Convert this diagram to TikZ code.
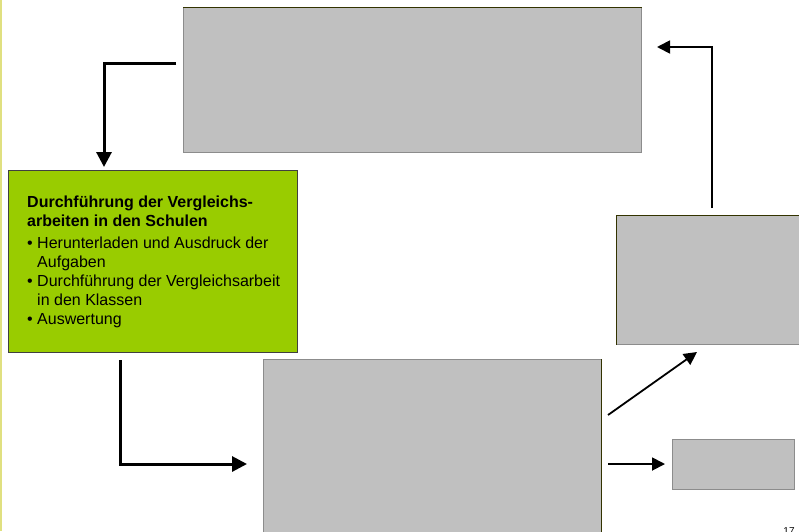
\documentclass[tikz,border=0pt]{standalone}
\usepackage{fontspec}
\setmainfont{Liberation Sans}
\usetikzlibrary{positioning,arrows.meta}
\definecolor{boxgray}{HTML}{C0C0C0}
\definecolor{stepgreen}{HTML}{99CC00}
\definecolor{edgeolive}{HTML}{333300}
\definecolor{leftbar}{HTML}{E0E080}

\begin{document}
\begin{tikzpicture}[x=1pt, y=-1pt,
                    graybox/.style={fill=boxgray, draw=gray!90, line width=0.8pt, inner sep=0pt, anchor=north west},
                    greenbox/.style={fill=stepgreen, draw=black!75, line width=1pt, inner sep=0pt, anchor=north west},
                    steptext/.style={anchor=north west, inner sep=0pt, align=left, font=\fontsize{16}{19}\selectfont},
                    edgeline/.style={draw=edgeolive, line width=1pt},
                    thickarrow/.style={line width=3pt, -{Triangle[length=15pt,width=15pt]}},
                    thinarrow/.style={line width=1.8pt, -{Triangle[length=13pt,width=13pt]}}]
    \useasboundingbox (0,0) rectangle (799,531);
    \clip (0,0) rectangle (799,531);
    \fill[leftbar] (0,0) rectangle (1.5,531);
    % nodes
    \node[graybox, minimum width=458pt, minimum height=145pt] (plan)   at (183,7)   {};
    \node[greenbox, minimum width=289pt, minimum height=182pt] (durchf) at (8,170)  {};
    \node[steptext]                                           (durchftext) at (27,196)
        {\textbf{Durchführung der Vergleichs-}\\
         \textbf{arbeiten in den Schulen}\\[3pt]
         • Herunterladen und Ausdruck der\\
         \hphantom{• }Aufgaben\\
         • Durchführung der Vergleichsarbeit\\
         \hphantom{• }in den Klassen\\
         • Auswertung};
    \node[graybox, minimum width=338pt, minimum height=190pt] (result) at (263,359) {};
    \node[graybox, minimum width=200pt, minimum height=129pt] (report) at (616,215) {};
    \node[graybox, minimum width=122pt, minimum height=50pt]  (extra)  at (672,439) {};
    \node[font=\fontsize{10}{12}\selectfont, anchor=north, inner sep=0pt] (pagenum) at (789,527) {17};
    % edges
    \draw[edgeline] (plan.north west) -- (plan.north east);
    \draw[edgeline] (report.south west) -- (report.north west) -- (report.north east);
    \draw[edgeline] (result.north east) -- (result.south east);
    % lines
    \coordinate (planout)   at (176,63);
    \coordinate (durchfin)  at (104,167);
    \coordinate (durchfout) at (120,360);
    \coordinate (resultin)  at (247,464);
    \coordinate (resultup)  at (608,415);
    \coordinate (reportin)  at (697,352);
    \coordinate (resultout) at (608,464);
    \coordinate (extrain)   at (665,464);
    \coordinate (reportout) at (712,208);
    \coordinate (planin)    at (657,47);
    \draw[thickarrow] (planout) -| (durchfin);
    \draw[thickarrow] (durchfout) |- (resultin);
    \draw[thinarrow] (resultup) -- (reportin);
    \draw[thinarrow] (resultout) -- (extrain);
    \draw[thinarrow] (reportout) |- (planin);
\end{tikzpicture}
\end{document}
